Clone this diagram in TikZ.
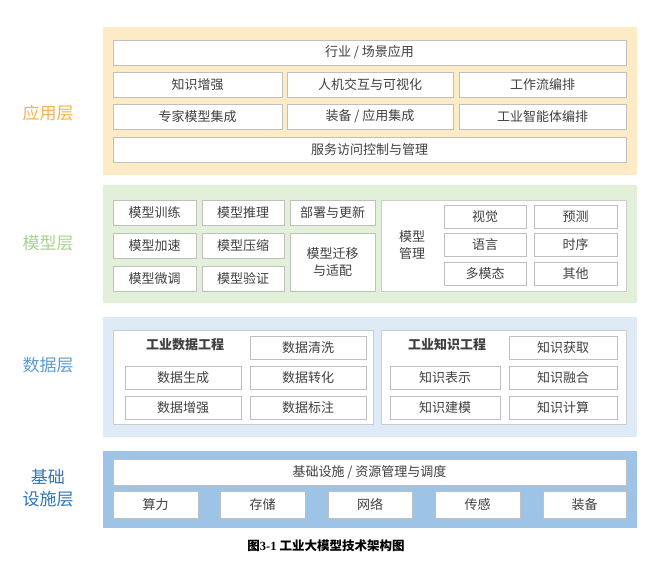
\documentclass[tikz,border=0pt]{standalone}
\usepackage{fontspec}
\setmainfont{Noto Sans CJK SC}
\newfontfamily\capfont{Liberation Serif}
\definecolor{appfill}{HTML}{FDEBC6}
\definecolor{applab}{HTML}{F5B04F}
\definecolor{modfill}{HTML}{E2F0D9}
\definecolor{modlab}{HTML}{A9D18E}
\definecolor{datfill}{HTML}{DEEBF7}
\definecolor{datlab}{HTML}{5B9BD5}
\definecolor{infill}{HTML}{9DC3E6}
\definecolor{inlab}{HTML}{2E75B6}
\definecolor{txt}{HTML}{404040}
\newcommand\cellbox[7][cell]{%
  \node[#1, minimum width={(#5-#3)*1pt}, minimum height={(#6-#4)*1pt}]
    (#2) at ({(#3+#5)/2},{(#4+#6)/2}) {#7};}
\begin{document}
\begin{tikzpicture}[x=1pt,y=-1pt,
    band/.style={rectangle, inner sep=0pt},
    cell/.style={rectangle, draw=black!25, fill=white, inner sep=0pt, align=center,
      text=txt, font=\fontsize{13}{17}\selectfont},
    frame/.style={rectangle, draw=black!20, fill=white, inner sep=0pt},
    layer/.style={font=\fontsize{17}{22}\selectfont, align=center}
]
    \useasboundingbox (0,0) rectangle (653,571);
    % Bands
    \cellbox[band, fill=appfill]{appband}{103}{27}{637}{175}{}
    \cellbox[band, fill=modfill]{modband}{103}{185}{637}{303}{}
    \cellbox[band, fill=datfill]{datband}{103}{317}{637}{437}{}
    \cellbox[band, fill=infill]{infband}{103}{451}{637}{528}{}
    % Layer labels
    \node[layer, text=applab] (applabel) at (48,113) {应用层};
    \node[layer, text=modlab] (modlabel) at (48,243) {模型层};
    \node[layer, text=datlab] (datlabel) at (48,365) {数据层};
    \node[layer, text=inlab] (inflabel) at (48,488) {基础\\设施层};
    % Application layer
    \cellbox{scene}{113}{40}{626}{65}{行业 / 场景应用}
    \cellbox{know}{113}{72}{282}{97}{知识增强}
    \cellbox{hci}{287}{72}{453}{97}{人机交互与可视化}
    \cellbox{flow}{459}{72}{626}{97}{工作流编排}
    \cellbox{expert}{113}{104}{282}{129}{专家模型集成}
    \cellbox{equip}{287}{104}{453}{129}{装备 / 应用集成}
    \cellbox{agent}{459}{104}{626}{129}{工业智能体编排}
    \cellbox{access}{113}{137}{626}{162}{服务访问控制与管理}
    % Model layer
    \cellbox{train}{113}{200}{196}{225}{模型训练}
    \cellbox{infer}{202}{200}{284}{225}{模型推理}
    \cellbox{accel}{113}{233}{196}{258}{模型加速}
    \cellbox{compress}{202}{233}{284}{258}{模型压缩}
    \cellbox{tune}{113}{266}{196}{291}{模型微调}
    \cellbox{verify}{202}{266}{284}{291}{模型验证}
    \cellbox{deploy}{290}{200}{375}{225}{部署与更新}
    \cellbox{transfer}{290}{233}{375}{291}{模型迁移\\与适配}
    \cellbox[frame]{mgmt}{381}{200}{626}{291}{}
    \node[cell, draw=none, fill=none] (mgmtlabel) at (412,245) {模型\\管理};
    \cellbox{vision}{444}{205}{526}{228}{视觉}
    \cellbox{predict}{534}{205}{617}{228}{预测}
    \cellbox{lang}{444}{233}{526}{256}{语言}
    \cellbox{series}{534}{233}{617}{256}{时序}
    \cellbox{multi}{444}{262}{526}{285}{多模态}
    \cellbox{other}{534}{262}{617}{285}{其他}
    % Data layer
    \cellbox[frame]{dataeng}{113}{330}{373}{424}{}
    \node[cell, draw=none, fill=none, font=\fontsize{13}{17}\selectfont\bfseries] (dataengtitle) at (185,345) {工业数据工程};
    \cellbox{clean}{250}{336}{366}{359}{数据清洗}
    \cellbox{gen}{125}{366}{241}{389}{数据生成}
    \cellbox{conv}{250}{366}{366}{389}{数据转化}
    \cellbox{aug}{125}{396}{241}{419}{数据增强}
    \cellbox{label}{250}{396}{366}{419}{数据标注}
    \cellbox[frame]{knoweng}{381}{330}{626}{424}{}
    \node[cell, draw=none, fill=none, font=\fontsize{13}{17}\selectfont\bfseries] (knowengtitle) at (447,345) {工业知识工程};
    \cellbox{acquire}{509}{336}{617}{359}{知识获取}
    \cellbox{repr}{390}{366}{500}{389}{知识表示}
    \cellbox{fuse}{509}{366}{617}{389}{知识融合}
    \cellbox{model}{390}{396}{500}{419}{知识建模}
    \cellbox{compute}{509}{396}{617}{419}{知识计算}
    % Infrastructure layer
    \cellbox{resource}{113}{459}{626}{485}{基础设施 / 资源管理与调度}
    \cellbox{power}{113}{491}{198}{518}{算力}
    \cellbox{storage}{220}{491}{305}{518}{存储}
    \cellbox{network}{328}{491}{412}{518}{网络}
    \cellbox{sensor}{435}{491}{520}{518}{传感}
    \cellbox{device}{543}{491}{626}{518}{装备}
    % Caption
    \node[font=\fontsize{12.5}{15}\selectfont\bfseries] (caption) at (326,546) {图{\capfont 3-1} 工业大模型技术架构图};
\end{tikzpicture}
\end{document}
